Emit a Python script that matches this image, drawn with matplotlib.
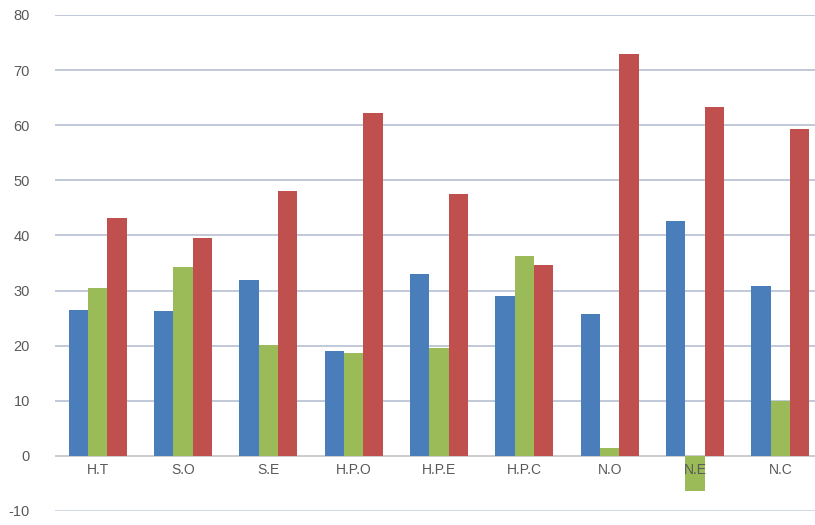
import matplotlib.pyplot as plt
import numpy as np

categories = ['H.T', 'S.O', 'S.E', 'H.P.O', 'H.P.E', 'H.P.C', 'N.O', 'N.E', 'N.C']
blue_vals = [26.4, 26.2, 32.0, 19.0, 33.0, 29.0, 25.7, 42.7, 30.8]
green_vals = [30.5, 34.2, 20.1, 18.7, 19.6, 36.3, 1.5, -6.4, 10.0]
red_vals = [43.1, 39.6, 48.1, 62.2, 47.6, 34.6, 72.9, 63.3, 59.4]
y_ticks = list(range(-10, 81, 10))

colors = ['#4a7ebb', '#9bbb59', '#c0504d']

fig = plt.figure(figsize=(8.15, 5.25), dpi=100)
# plot area runs slightly past the right edge of the canvas
ax = fig.add_axes([55 / 815, (525 - 511) / 525, 768 / 815, (511 - 15) / 525])

x = np.arange(len(categories))
w = 0.227
for k, (vals, c) in enumerate(zip([blue_vals, green_vals, red_vals], colors)):
    ax.bar(x + (k - 1) * w, vals, width=w, color=c, zorder=3, linewidth=0)

ax.set_xlim(-0.5, len(categories) - 0.5)
ax.set_ylim(-10, 80)
ax.set_yticks(y_ticks)
ax.set_yticklabels([str(v) for v in y_ticks], fontsize=10.5, color='#595959',
                   family='Liberation Sans')
ax.tick_params(axis='y', length=0, pad=18)
ax.tick_params(axis='x', length=0)
ax.set_xticks([])

for yv in y_ticks:
    if yv == 0:
        continue
    lw = 2.2 if yv == -10 else 1.3
    col = '#d3d9e2' if yv == -10 else '#bcc5d6'
    ax.axhline(yv, color=col, linewidth=lw, zorder=1)
ax.axhline(0, color='#c8c8c8', linewidth=1.3, zorder=2)

for i, lab in enumerate(categories):
    ax.text(i, -2.6, lab, ha='center', va='center', fontsize=10,
            color='#595959', family='Liberation Sans', zorder=4)

for s in ax.spines.values():
    s.set_visible(False)

fig.savefig('out.png', dpi=100)
